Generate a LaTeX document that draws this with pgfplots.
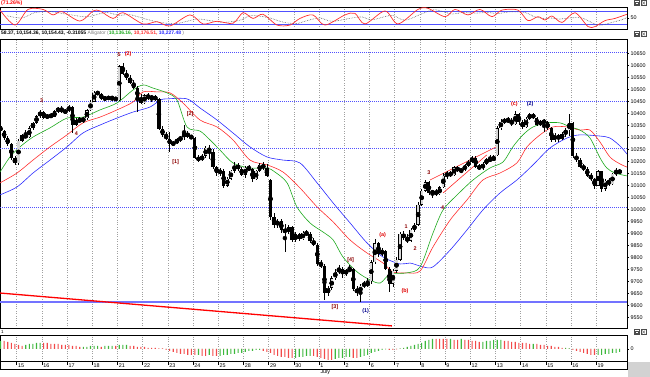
\documentclass[border=0pt]{standalone}
\usepackage{pgfplots}
\pgfplotsset{compat=1.18}
\usepackage{pgfplotstable}
\usepackage{fontspec}
\setmainfont{Liberation Sans}
\definecolor{lvl}{HTML}{5050FF}
\definecolor{agreen}{HTML}{1FAA1F}
\definecolor{ared}{HTML}{FF2E2E}
\definecolor{ablue}{HTML}{2B2BFF}
\definecolor{wdark}{HTML}{8B0000}
\definecolor{wred}{HTML}{E00000}
\definecolor{wblue}{HTML}{00008C}
\definecolor{hgreen}{HTML}{3DB83D}
\definecolor{hred}{HTML}{F24A4A}
\definecolor{upfill}{HTML}{D8D8D8}

\pgfplotstableread{
x o h l c g s
-0.643 10345 10352 10318 10325 8 1
-0.500 10325 10332 10290 10298 8 0
-0.357 10298 10305 10262 10270 7 0
-0.214 10270 10275 10205 10212 6 0
-0.071 10212 10222 10185 10191 5 0
0.071 10192 10292 10186 10285 4 0
0.214 10285 10315 10280 10308 3 0
0.357 10308 10330 10295 10300 4 1
0.500 10300 10345 10296 10338 5 1
0.643 10338 10365 10330 10360 5 1
0.786 10360 10392 10355 10388 6 1
0.929 10388 10415 10382 10405 6 1
1.071 10405 10410 10378 10382 6 0
1.214 10382 10396 10375 10392 6 0
1.357 10392 10400 10380 10385 5 0
1.500 10385 10412 10383 10408 5 0
1.643 10408 10428 10400 10422 5 0
1.786 10422 10432 10400 10404 4 0
1.929 10404 10418 10398 10409 4 0
2.071 10409 10436 10405 10428 4 0
2.214 10428 10432 10318 10352 3 0
2.357 10352 10380 10345 10372 3 0
2.500 10372 10384 10362 10368 2 0
2.643 10368 10385 10358 10380 2 1
2.786 10380 10418 10372 10412 2 1
2.929 10412 10456 10408 10448 3 1
3.071 10448 10492 10445 10486 3 1
3.214 10486 10494 10476 10482 3 1
3.357 10482 10486 10455 10458 2 0
3.500 10458 10470 10452 10466 3 1
3.643 10466 10472 10456 10462 3 1
3.786 10462 10470 10452 10466 3 1
3.929 10466 10468 10450 10455 3 0
4.071 10455 10600 10450 10596 4 1
4.214 10596 10611 10560 10565 4 1
4.357 10565 10580 10540 10548 4 1
4.500 10548 10560 10520 10526 3 0
4.643 10526 10540 10500 10506 3 0
4.786 10506 10515 10405 10462 2 0
4.929 10462 10480 10438 10442 2 0
5.071 10442 10482 10440 10475 2 0
5.214 10475 10486 10455 10462 1 0
5.357 10462 10478 10445 10470 1 0
5.500 10470 10476 10450 10458 1 0
5.643 10458 10462 10330 10335 0.5 0
5.786 10335 10345 10300 10310 0.5 0
5.929 10310 10322 10290 10293 -1 0
6.071 10293 10322 10240 10270 -2 0
6.214 10270 10285 10262 10278 -3 0
6.357 10278 10295 10270 10290 -4 0
6.500 10290 10305 10282 10300 -5 0
6.643 10300 10352 10290 10318 -5 0
6.786 10318 10325 10296 10302 -6 0
6.929 10302 10310 10295 10298 -6 0
7.071 10298 10302 10210 10215 -6 0
7.214 10215 10225 10195 10205 -6 1
7.357 10205 10230 10200 10222 -7 0
7.500 10222 10262 10215 10256 -7 0
7.643 10256 10268 10210 10240 -6 1
7.786 10240 10250 10168 10175 -7 0
7.929 10175 10182 10140 10153 -7 0
8.071 10153 10172 10140 10160 -7 1
8.214 10160 10168 10090 10098 -6 1
8.357 10098 10135 10092 10128 -6 1
8.500 10128 10165 10120 10160 -5 1
8.643 10160 10196 10152 10185 -5 1
8.786 10185 10192 10160 10168 -4 1
8.929 10168 10175 10138 10144 -4 1
9.071 10144 10182 10132 10172 -3 1
9.214 10172 10185 10160 10166 -2 1
9.357 10166 10172 10112 10125 -2 1
9.500 10125 10165 10120 10160 -1 1
9.643 10160 10192 10155 10185 -1 1
9.786 10185 10196 10162 10172 -2 0
9.929 10172 10190 10135 10138 -3 0
10.071 10120 10128 9955 9968 -4 0
10.214 9968 9985 9920 9935 -6 0
10.357 9935 9960 9922 9950 -7 0
10.500 9950 9958 9900 9915 -8 0
10.643 9915 9940 9820 9905 -8 0
10.786 9905 9935 9895 9925 -9 0
10.929 9925 9932 9862 9870 -9 0
11.071 9870 9905 9862 9895 -9 1
11.214 9895 9902 9868 9875 -8 1
11.357 9875 9908 9870 9902 -8 1
11.500 9902 9915 9888 9895 -7 1
11.643 9895 9905 9860 9868 -7 1
11.786 9868 9880 9845 9852 -7 0
11.929 9852 9858 9765 9774 -8 0
12.071 9774 9790 9755 9765 -9 0
12.214 9765 9770 9622 9650 -10 0
12.357 9650 9680 9640 9672 -11 0
12.500 9672 9720 9665 9712 -11 0
12.643 9712 9752 9705 9740 -10 1
12.786 9740 9768 9730 9752 -9 1
12.929 9752 9760 9715 9732 -9 1
13.071 9732 9752 9722 9745 -8 1
13.214 9745 9768 9738 9750 -8 1
13.357 9750 9755 9660 9668 -9 0
13.500 9668 9680 9640 9652 -9 0
13.643 9652 9690 9614 9682 -8 1
13.786 9682 9700 9672 9690 -7 1
13.929 9690 9712 9678 9686 -6 1
14.071 9700 9790 9690 9780 -4 1
14.214 9780 9875 9772 9858 -3 1
14.357 9858 9862 9800 9815 -2 1
14.500 9815 9840 9805 9825 -1 1
14.643 9825 9830 9745 9752 -0.5 1
14.786 9752 9760 9655 9690 -1 0
14.929 9690 9750 9675 9743 -1 0
15.071 9743 9800 9735 9790 -0.5 0
15.214 9790 9905 9785 9898 0.5 1
15.357 9898 9910 9870 9880 1 1
15.500 9880 9895 9860 9868 2 1
15.643 9868 9920 9862 9915 3 1
15.786 9915 9942 9905 9935 4 1
15.929 9935 10030 9930 10018 5 1
16.071 10018 10085 10012 10078 6 1
16.214 10078 10124 10070 10112 8 1
16.357 10112 10118 10060 10068 9 1
16.500 10068 10082 10048 10075 10 1
16.643 10075 10085 10055 10062 10 0
16.786 10062 10098 10058 10092 10 0
16.929 10092 10150 10088 10139 10 0
17.071 10139 10158 10128 10150 10 0
17.214 10150 10160 10135 10142 10 1
17.357 10142 10182 10138 10175 9 0
17.500 10175 10180 10155 10160 9 0
17.643 10160 10170 10150 10165 10 1
17.786 10165 10188 10160 10182 9 0
17.929 10182 10205 10175 10198 9 0
18.071 10198 10222 10192 10215 8 0
18.214 10215 10220 10172 10178 8 0
18.357 10178 10190 10162 10170 7 0
18.500 10170 10195 10165 10190 7 1
18.643 10190 10212 10185 10208 8 1
18.786 10208 10225 10198 10205 8 1
18.929 10205 10228 10200 10216 9 1
19.071 10225 10345 10220 10338 9 1
19.214 10338 10375 10330 10365 9 1
19.357 10365 10380 10355 10372 8 0
19.500 10372 10385 10360 10368 8 0
19.643 10368 10382 10348 10355 7 0
19.786 10355 10410 10350 10395 7 0
19.929 10395 10400 10350 10363 6 0
20.071 10363 10372 10335 10342 6 0
20.214 10342 10385 10338 10378 6 0
20.357 10378 10402 10372 10395 5 0
20.500 10395 10400 10375 10382 5 1
20.643 10382 10386 10345 10352 5 0
20.786 10352 10372 10345 10368 4 0
20.929 10368 10375 10320 10362 4 0
21.071 10362 10368 10330 10338 3 0
21.214 10338 10342 10282 10288 3 0
21.357 10288 10318 10280 10310 2 0
21.500 10310 10315 10282 10292 2 0
21.643 10292 10320 10288 10315 1 0
21.786 10315 10338 10300 10330 1 1
21.929 10330 10395 10305 10359 0.5 1
22.071 10359 10362 10215 10222 -1 0
22.214 10222 10235 10195 10205 -2 0
22.357 10205 10212 10170 10178 -3 0
22.500 10178 10190 10160 10168 -4 0
22.643 10168 10175 10135 10140 -5 0
22.786 10140 10152 10118 10128 -6 0
22.929 10128 10132 10085 10098 -6 0
23.071 10098 10165 10095 10158 -6 1
23.214 10158 10160 10070 10085 -6 1
23.357 10085 10125 10078 10118 -5 1
23.500 10118 10130 10098 10105 -5 1
23.643 10105 10152 10100 10148 -4 1
23.786 10148 10172 10140 10160 -4 1
23.929 10160 10168 10145 10154 -3 1
}\candles

\pgfplotsset{
  panel/.style={scale only axis, width=627pt, anchor=south west,
    xmin=-0.663, xmax=24.22,
    axis line style={black, line width=0.6pt},
    xtick={0,...,23}, xticklabels={}, xtick style={/pgfplots/major tick length=0pt},
    xmajorgrids, major x grid style={gray!75, dotted, line width=0.5pt},
    ytick pos=right, yticklabel pos=right, tick align=outside,
    major tick length=2.2pt, minor tick length=1.2pt,
    ytick style={black, line width=0.4pt},
    scaled y ticks=false,
    yticklabel style={font=\fontsize{5.4}{6}\selectfont, inner sep=1.2pt,
      /pgf/number format/fixed, /pgf/number format/precision=0},
    /pgf/number format/assume math mode=true,
    /pgf/number format/1000 sep={}}
}
\tikzset{wlab/.style={font=\fontsize{5.4}{6}\selectfont\bfseries, inner sep=0pt},
  winicons/.style={draw=black!70, line width=0.35pt}}

\begin{document}
\begin{tikzpicture}[x=1pt,y=1pt]
\useasboundingbox (0,0) rectangle (650,377);

% ---------------- oscillator panel ----------------
\begin{axis}[panel, at={(0pt,348pt)}, height=22pt, ymin=0, ymax=100,
  ytick={50}, minor ytick={10,20,30,40,60,70,80,90}]
\addplot[lvl, line width=1pt] coordinates {(-0.663,80) (24.22,80)};
\addplot[lvl, line width=1pt] coordinates {(-0.663,20) (24.22,20)};
\addplot[gray!70!black, densely dotted, line width=0.6pt, smooth] coordinates {
(-0.385,60) (0.210,50) (0.726,75) (1.321,80) (1.718,72) (2.115,65) (2.790,55)
(3.306,70) (3.583,75) (4.099,62) (4.496,65) (5.290,40) (5.806,28) (6.361,25)
(7.155,45) (7.671,38) (8.226,30) (8.861,40) (9.258,60) (9.655,58) (10.052,50)
(10.607,30) (11.123,25) (11.520,38) (12.036,50) (12.512,35) (13.306,50) (13.702,55)
(14.099,42) (14.893,62) (15.409,40) (16.202,75) (16.599,88) (17.274,68) (17.671,75)
(18.187,72) (18.663,75) (19.139,70) (19.536,78) (20.171,75) (20.567,55) (20.964,48)
(21.242,50) (21.520,45) (21.917,50) (22.433,50) (22.948,22) (23.226,18) (23.623,30)
(24.020,42) (24.218,52)};
\addplot[ared, line width=0.7pt, smooth] coordinates {
(-0.663,86) (-0.067,18) (0.448,89) (1.044,89) (1.440,64) (1.798,79) (2.512,36)
(3.028,82) (3.306,82) (3.821,48) (4.218,74) (5.012,23) (5.567,33) (6.083,14)
(6.877,64) (7.393,23) (7.948,35) (8.583,26) (8.980,74) (9.377,48) (9.774,67)
(10.329,18) (10.845,18) (11.242,48) (11.758,64) (12.234,18) (13.028,64) (13.425,71)
(13.821,23) (14.615,82) (15.131,23) (15.925,89) (16.321,94) (16.996,56) (17.393,89)
(17.909,64) (18.385,89) (18.861,56) (19.258,86) (19.893,86) (20.290,38) (20.687,56)
(20.964,41) (21.242,59) (21.639,30) (22.155,74) (22.671,11) (22.948,11) (23.345,38)
(23.742,48) (24.218,67)};
\end{axis}

% ---------------- main price panel ----------------
\begin{axis}[panel, at={(0pt,49pt)}, height=289pt, ymin=9505.3, ymax=10709.5,
  ytick={9550,9600,...,10650}, minor y tick num=1]
% level lines
\addplot[lvl, dash pattern=on 1pt off 1pt, line width=0.8pt] coordinates {(-0.663,10652) (24.22,10652)};
\addplot[lvl, dash pattern=on 1pt off 1pt, line width=0.8pt] coordinates {(-0.663,10451) (24.22,10451)};
\addplot[lvl, dash pattern=on 1pt off 1pt, line width=0.8pt] coordinates {(-0.663,10255) (24.22,10255)};
\addplot[lvl, dash pattern=on 1pt off 1pt, line width=0.8pt] coordinates {(-0.663,10008) (24.22,10008)};
\addplot[lvl!80, line width=1.2pt] coordinates {(-0.663,9614) (24.22,9614)};
% trend lines
\addplot[red, line width=1.3pt] coordinates {(-0.663,9651) (14.89,9514)};
\addplot[red!85, line width=0.6pt] coordinates {(16.40,10122) (19.05,10261)};
\addplot[red!85, line width=0.6pt] coordinates {(16.92,10068) (18.65,10226)};
% alligator
\addplot[ablue, line width=0.6pt, smooth] coordinates {
(-0.663,10060) (0.012,10093) (0.647,10151) (1.321,10205) (1.996,10260) (2.631,10318)
(3.306,10351) (3.980,10380) (4.615,10405) (5.29,10426) (5.69,10455) (5.964,10460)
(6.758,10460) (7.274,10422) (7.948,10372) (8.583,10318) (9.258,10260) (9.933,10218)
(10.57,10205) (11.24,10193) (11.92,10110) (12.56,10026) (13.23,9943) (13.90,9860)
(14.54,9801) (15.21,9772) (15.61,9776) (16.12,9760) (16.52,9760) (17.20,9830)
(17.87,9914) (18.50,9997) (19.18,10068) (19.85,10122) (20.49,10185) (21.16,10255)
(21.84,10297) (22.35,10310) (23.15,10305) (23.54,10297) (23.94,10264) (24.22,10230)};
\addplot[ared, line width=0.6pt, smooth] coordinates {
(-0.663,10110) (0.012,10151) (0.647,10205) (1.321,10260) (1.996,10310) (2.631,10360)
(3.306,10384) (3.980,10414) (4.615,10447) (5.012,10489) (5.567,10489) (6.083,10485)
(6.599,10443) (7.274,10372) (7.948,10343) (8.583,10289) (9.258,10205) (9.933,10185)
(10.57,10155) (11.24,10089) (11.92,10010) (12.56,9947) (13.23,9872) (13.90,9818)
(14.54,9776) (14.93,9739) (15.49,9735) (16.01,9743) (16.52,9843) (17.20,9955)
(17.87,10039) (18.50,10122) (19.18,10151) (19.85,10193) (20.25,10260) (20.77,10310)
(21.28,10343) (21.84,10343) (22.35,10330) (22.75,10330) (23.15,10280) (23.54,10218)
(23.94,10189) (24.22,10176)};
\addplot[agreen, line width=0.6pt, smooth] coordinates {
(-0.663,10155) (-0.266,10218) (0.131,10260) (0.647,10301) (1.321,10339) (1.996,10380)
(2.631,10384) (3.306,10414) (3.980,10443) (4.615,10497) (5.012,10518) (5.409,10505)
(5.964,10485) (6.361,10455) (6.758,10343) (7.274,10326) (7.671,10289) (8.067,10247)
(8.583,10193) (9.258,10172) (9.933,10172) (10.25,10155) (10.73,10110) (11.12,10010)
(11.64,9943) (12.16,9905) (12.56,9872) (12.95,9801) (13.51,9739) (14.03,9705)
(14.43,9693) (14.82,9730) (15.49,9735) (16.01,9760) (16.52,9901) (16.92,9997)
(17.48,10060) (18.11,10122) (18.78,10172) (19.30,10197) (19.69,10260) (20.09,10310)
(20.49,10343) (21.04,10360) (21.56,10360) (21.96,10343) (22.35,10330) (22.75,10297)
(23.15,10214) (23.42,10172) (23.74,10151) (24.22,10139)};
% candles: wicks, bodies, hollow interiors
\addplot[only marks, mark=none, error bars/.cd, y dir=both, y explicit, error mark=none,
  error bar style={draw=black, line width=0.5pt}]
  table[x=x, y expr={(\thisrow{h}+\thisrow{l})/2}, y error expr={(\thisrow{h}-\thisrow{l})/2}] {\candles};
\addplot[only marks, mark=none, error bars/.cd, y dir=both, y explicit, error mark=none,
  error bar style={draw=black, line width=3.2pt}]
  table[x=x, y expr={(\thisrow{o}+\thisrow{c})/2}, y error expr={max(abs(\thisrow{c}-\thisrow{o})/2,1.5)}] {\candles};
\addplot[only marks, mark=none, error bars/.cd, y dir=both, y explicit, error mark=none,
  error bar style={draw=upfill, line width=2.2pt}]
  table[x=x, y expr={(\thisrow{o}+\thisrow{c})/2}, y error expr={max((\thisrow{c}-\thisrow{o})/2-2.1,0)}] {\candles};
% wave labels
\node[wlab, text=wdark] at (axis cs:0.99,10451) {3};
\node[wlab, text=wdark] at (axis cs:2.37,10314) {4};
\node[wlab, text=wdark] at (axis cs:4.06,10643) {5};
\node[wlab, text=wred] at (axis cs:4.42,10647) {(2)};
\node[wlab, text=wdark] at (axis cs:6.31,10197) {[1]};
\node[wlab, text=wdark] at (axis cs:6.88,10397) {[2]};
\node[wlab, text=wdark] at (axis cs:12.63,9593) {[3]};
\node[wlab, text=wdark] at (axis cs:13.25,9789) {[4]};
\node[wlab, text=wblue] at (axis cs:13.85,9576) {(1)};
\node[wlab, text=wred] at (axis cs:14.52,9893) {(a)};
\node[wlab, text=wred] at (axis cs:15.41,9659) {(b)};
\node[wlab, text=wdark] at (axis cs:15.45,9926) {1};
\node[wlab, text=wdark] at (axis cs:15.81,9835) {2};
\node[wlab, text=wdark] at (axis cs:16.36,10151) {3};
\node[wlab, text=wdark] at (axis cs:16.90,10007) {4};
\node[wlab, text=wred] at (axis cs:19.75,10439) {(c)};
\node[wlab, text=wblue] at (axis cs:20.38,10439) {(2)};
\end{axis}

% ---------------- histogram panel ----------------
\begin{axis}[panel, at={(0pt,16pt)}, height=26pt, ymin=-12, ymax=14, ytick={0},
  minor ytick={-8,-4,4,8,12}]
\addplot[ybar, bar width=1.1pt, bar shift=0pt, fill=hgreen, draw=none]
  table[x=x, y expr={\thisrow{g}*\thisrow{s}}] {\candles};
\addplot[ybar, bar width=1.1pt, bar shift=0pt, fill=hred, draw=none]
  table[x=x, y expr={\thisrow{g}*(1-\thisrow{s})}] {\candles};
\end{axis}

% ---------------- date strip ----------------
\begin{axis}[scale only axis, width=627pt, height=8pt, at={(0pt,8pt)}, anchor=south west,
  xmin=-0.663, xmax=24.22, ymin=0, ymax=1, ytick=\empty,
  xtick={0,...,23},
  xticklabels={15,16,17,18,21,22,23,24,25,28,29,30,1,2,6,7,8,9,12,13,14,15,16,19},
  minor x tick num=6, xtick pos=right, xticklabel pos=left, tick align=inside,
  major tick length=4pt, minor tick length=1.3pt,
  tick style={black, line width=0.5pt},
  xticklabel style={font=\fontsize{5.4}{6}\selectfont, anchor=south west, inner sep=0.6pt, xshift=0.6pt, yshift=0.4pt},
  axis line style={black, line width=0.6pt}, clip=false]
\node[anchor=north west, font=\fontsize{5.4}{6}\selectfont, inner sep=0.5pt] at (axis cs:12.03,0) {July};
\end{axis}

% ---------------- header texts and window icons ----------------
\node[anchor=north west, inner sep=0.5pt, text=red, font=\fontsize{5.2}{6}\selectfont\bfseries] at (0.5,377) {(71.26\%)};
\node[anchor=west, inner sep=0pt, font=\fontsize{5}{6}\selectfont\bfseries] at (1,344)
  {58.37, 10,154.36, 10,154.43, -0.31055 \textcolor{gray}{\mdseries Alligator (}\textcolor{agreen}{10,136.16,} \textcolor{ared}{10,176.51,} \textcolor{ablue}{10,227.48}\textcolor{gray}{\mdseries\ )}};
\node[anchor=west, inner sep=0pt, font=\fontsize{4.5}{5}\selectfont] at (1,45) {1};
\foreach \yy in {371.5,340.5,42.5}{
  \draw[winicons, fill=white] (634,\yy) rectangle +(5,5);
  \draw[winicons] (635.2,\yy+1.2) rectangle +(2.6,2.6);
  \draw[winicons, fill=white] (641,\yy) rectangle +(5,5);
  \draw[winicons] (642,\yy+1) -- +(3,3) (642,\yy+4) -- +(3,-3);
}
\fill[gray!35] (628,0) rectangle (650,15);
\end{tikzpicture}
\end{document}
